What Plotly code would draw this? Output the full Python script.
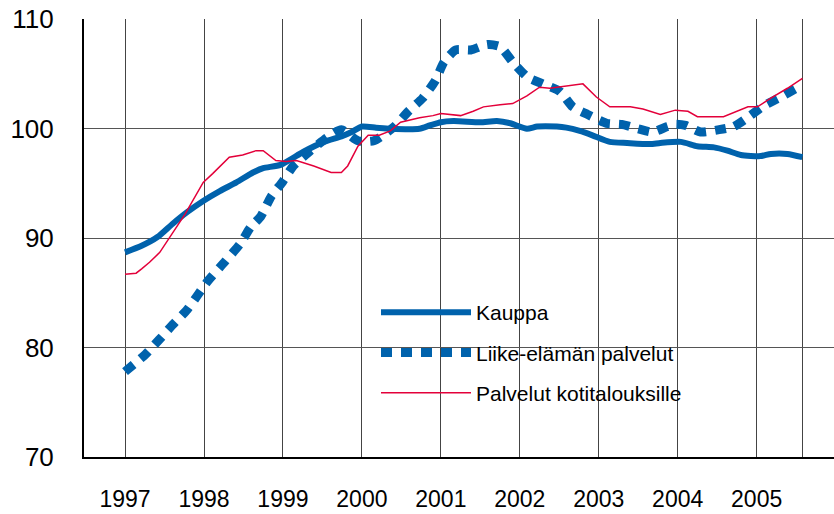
import plotly.graph_objects as go

# ---- data ----
kauppa_x = [1997.00, 1997.21, 1997.41, 1997.60, 1997.79, 1997.99, 1998.20, 1998.41, 1998.62, 1998.75,
            1998.97, 1999.26, 1999.52, 1999.74, 1999.87, 2000.00, 2000.18, 2000.36, 2000.73, 2000.86,
            2001.00, 2001.16, 2001.50, 2001.71, 2001.88, 2002.09, 2002.22, 2002.47, 2002.59, 2002.76,
            2002.92, 2003.14, 2003.36, 2003.65, 2003.78, 2004.04, 2004.25, 2004.46, 2004.63, 2004.80,
            2005.05, 2005.18, 2005.39, 2005.58]
kauppa_y = [88.7, 89.3, 90.1, 91.3, 92.4, 93.4, 94.3, 95.1, 96.0, 96.4,
            96.7, 97.9, 98.8, 99.3, 99.7, 100.2, 100.1, 100.0, 100.0, 100.3,
            100.6, 100.7, 100.6, 100.7, 100.5, 100.0, 100.2, 100.2, 100.1, 99.8,
            99.4, 98.8, 98.7, 98.6, 98.7, 98.8, 98.4, 98.3, 98.0, 97.6,
            97.5, 97.7, 97.7, 97.4]

liike_x = [1997.00, 1997.26, 1997.43, 1997.58, 1997.79, 1997.93, 1998.05, 1998.27, 1998.46, 1998.59,
           1998.72, 1998.85, 1999.00, 1999.13, 1999.35, 1999.56, 1999.74, 1999.95, 2000.15, 2000.41,
           2000.59, 2000.77, 2000.93, 2001.04, 2001.19, 2001.38, 2001.59, 2001.75, 2001.91, 2002.10,
           2002.29, 2002.51, 2002.67, 2002.86, 2003.10, 2003.29, 2003.50, 2003.68, 2003.87, 2003.97,
           2004.10, 2004.29, 2004.51, 2004.71, 2004.92, 2005.09, 2005.33, 2005.53, 2005.58]
liike_y = [77.8, 79.4, 80.7, 81.9, 83.5, 84.9, 86.1, 87.9, 89.5, 91.0,
           92.0, 93.8, 95.2, 96.6, 98.0, 99.2, 99.9, 98.9, 98.9, 100.2,
           101.6, 102.8, 104.4, 106.1, 107.2, 107.2, 107.7, 107.5, 106.1, 104.7,
           104.1, 103.4, 102.0, 101.3, 100.5, 100.4, 100.0, 99.7, 100.2, 100.4,
           100.3, 99.7, 99.9, 100.2, 101.2, 102.1, 103.0, 103.8, 103.9]

koti_x = [1997.00, 1997.14, 1997.21, 1997.31, 1997.44, 1997.60, 1997.76, 1997.99, 1998.11, 1998.32,
          1998.49, 1998.66, 1998.75, 1998.91, 1999.04, 1999.17, 1999.39, 1999.61, 1999.74, 1999.82,
          1999.95, 2000.08, 2000.22, 2000.36, 2000.49, 2000.73, 2000.90, 2001.00, 2001.25, 2001.41,
          2001.54, 2001.75, 2001.91, 2002.09, 2002.25, 2002.38, 2002.59, 2002.80, 2002.97, 2003.14,
          2003.40, 2003.56, 2003.78, 2003.97, 2004.13, 2004.25, 2004.58, 2004.76, 2004.89, 2005.01,
          2005.18, 2005.39, 2005.58]
koti_y = [86.7, 86.8, 87.2, 87.8, 88.7, 90.4, 92.2, 95.1, 95.9, 97.4,
          97.6, 98.0, 98.0, 97.1, 97.0, 97.1, 96.6, 96.0, 96.0, 96.6,
          98.4, 99.4, 99.4, 99.8, 100.6, 101.0, 101.2, 101.4, 101.2, 101.6,
          102.0, 102.2, 102.3, 103.0, 103.8, 103.7, 103.9, 104.1, 102.9, 102.0,
          102.0, 101.8, 101.3, 101.7, 101.6, 101.1, 101.1, 101.6, 102.0, 102.0,
          102.8, 103.7, 104.6]

series_names = ["Kauppa", "Liike-elämän palvelut", "Palvelut kotitalouksille"]
year_ticks = [1997, 1998, 1999, 2000, 2001, 2002, 2003, 2004, 2005]
y_ticks = [70, 80, 90, 100, 110]

BLUE = "#0062AC"
RED = "#E3003A"
FONT = "Arial, Liberation Sans, sans-serif"

fig = go.Figure()
fig.add_trace(go.Scatter(x=kauppa_x, y=kauppa_y, mode="lines", name=series_names[0],
                         line=dict(color=BLUE, width=6, shape="spline", smoothing=0.6),
                         legendgroup="a"))
fig.add_trace(go.Scatter(x=liike_x, y=liike_y, mode="lines", name=series_names[1],
                         line=dict(color=BLUE, width=9, dash="11px,9px", shape="spline", smoothing=0.6),
                         legendgroup="b"))
fig.add_trace(go.Scatter(x=koti_x, y=koti_y, mode="lines", name=series_names[2],
                         line=dict(color=RED, width=1.5),
                         legendgroup="c"))

# plot area in page pixels: x 84..834, y 19..457
PL, PR, PT, PB = 84, 834, 19, 457
PW, PH = PR - PL, PB - PT

# white panel behind the legend (hides grid lines there)
fig.add_shape(type="rect", xref="paper", yref="paper",
              x0=(367 - PL) / PW, x1=(762 - PL) / PW,
              y0=(PB - 426) / PH, y1=(PB - 282) / PH,
              fillcolor="white", line=dict(width=0), layer="below")

tickvals = year_ticks + [kauppa_x[-1]]
ticktext = [str(y) for y in year_ticks] + [""]

fig.update_layout(
    width=834, height=514,
    margin=dict(l=PL, r=834 - PR, t=PT, b=514 - PB, autoexpand=False),
    paper_bgcolor="white", plot_bgcolor="white",
    font=dict(family=FONT, color="black"),
    showlegend=True,
    legend=dict(x=(376 - PL) / PW, y=(PB - 292) / PH, xanchor="left", yanchor="top",
                bgcolor="rgba(0,0,0,0)", font=dict(size=21, family=FONT, color="black"),
                tracegroupgap=10, itemwidth=90),
    xaxis=dict(range=[1996.48, 2005.98], tickvals=tickvals, ticktext=ticktext,
               showgrid=True, gridcolor="#444", gridwidth=1, zeroline=False,
               showline=True, linecolor="black", linewidth=2, automargin=False,
               ticks="", tickfont=dict(size=23), ticklabelstandoff=20),
    yaxis=dict(range=[70, 110.03], tickvals=y_ticks,
               showgrid=True, gridcolor="#555", gridwidth=1, zeroline=False,
               showline=True, linecolor="black", linewidth=2, automargin=False,
               ticks="", tickfont=dict(size=26), ticklabelstandoff=23,
               ticklabeloverflow="allow"),
)

fig.write_html("out.html", config={"displayModeBar": False},
               post_script="document.body.style.margin='0';")
